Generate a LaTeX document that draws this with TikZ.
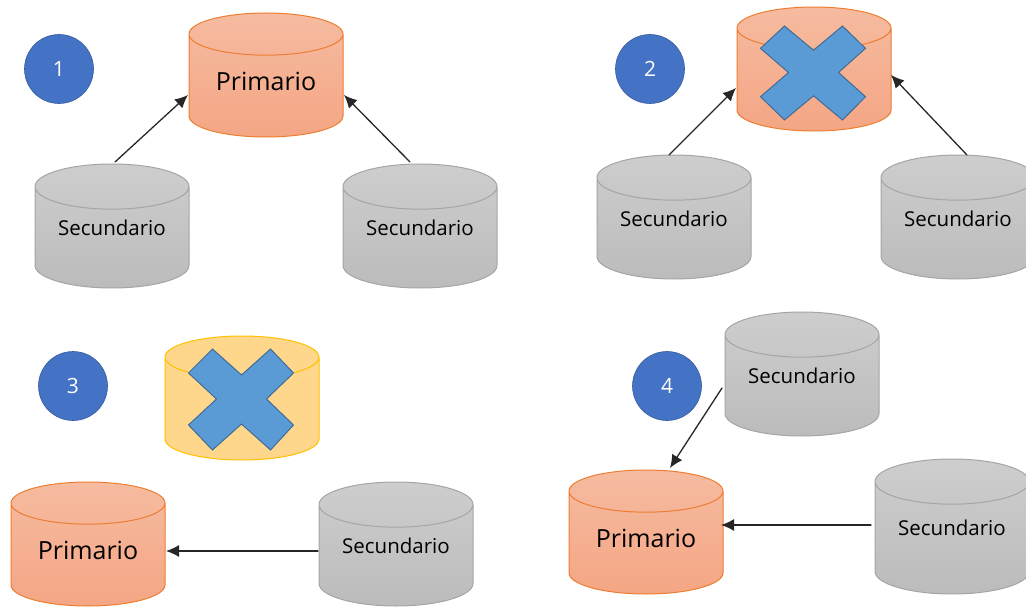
\documentclass[tikz,border=0pt]{standalone}
\usepackage{fontspec}
\setmainfont{Open Sans}
\definecolor{myorange}{RGB}{237,125,49}
\definecolor{myorangeup}{RGB}{246,187,160}
\definecolor{myorangedn}{RGB}{244,166,132}
\definecolor{mygray}{RGB}{165,165,165}
\definecolor{myyellow}{RGB}{255,192,0}
\definecolor{myyellowfill}{RGB}{255,215,140}
\definecolor{myblue}{RGB}{68,114,196}
\definecolor{mycross}{RGB}{91,155,213}
\usetikzlibrary{shapes.geometric,arrows.meta}

\begin{document}
\begin{tikzpicture}[x=1pt,y=-1pt,line cap=round]
	\tikzstyle{cyl}=[cylinder,anchor=shape center,shape border rotate=90,draw,line width=1pt,aspect=.42,minimum width=154pt,minimum height=124pt,inner sep=0pt];
	\tikzstyle{pri}=[cyl,myorange,top color=myorangeup,bottom color=myorangedn,text=black,text height=15pt,text depth=5pt,font=\fontsize{25}{25}\selectfont];
	\tikzstyle{sec}=[cyl,mygray,top color=mygray!55!white,bottom color=mygray!75!white,text=black,text height=7.5pt,text depth=12.5pt,font=\fontsize{20.5}{20.5}\selectfont];
	\tikzstyle{gone}=[cyl,myyellow,top color=myyellowfill,bottom color=myyellowfill,text height=15pt,text depth=5pt,font=\fontsize{25}{25}\selectfont];
	\tikzstyle{num}=[circle,draw=myblue!80!black,fill=myblue,text=white,line width=.6pt,minimum size=69pt,inner sep=0pt,font=\fontsize{21}{21}\selectfont];
	\tikzstyle{cruz}=[draw=mycross!70!black,fill=mycross,line width=1pt,line join=miter];
	\tikzstyle{arr}=[-{Latex[length=13pt,width=12pt]},line width=1.3pt,black!85];
	\useasboundingbox (0,0) rectangle (1026,607);
	% 1
	\node[num] (n1)    at (59,69)   {1};
	\node[pri] (pri1)  at (266,75)  {Primario};
	\node[sec] (sec1a) at (112,226) {Secundario};
	\node[sec] (sec1b) at (420,226) {Secundario};
	\draw[arr] ([shift={(3,-64)}]sec1a.shape center) -- ([shift={(-78,20)}]pri1.shape center);
	\draw[arr] ([shift={(-10,-64)}]sec1b.shape center) -- ([shift={(78,20)}]pri1.shape center);
	% 2
	\node[num]  (n2)    at (650,69)  {2};
	\node[pri]  (pri2)  at (814,69)  {\phantom{Primario}};
	\node[sec]  (sec2a) at (674,217) {Secundario};
	\node[sec]  (sec2b) at (958,217) {Secundario};
	\draw[arr] ([shift={(-5,-62)}]sec2a.shape center) -- ([shift={(-78,19)}]pri2.shape center);
	\draw[arr] ([shift={(9,-62)}]sec2b.shape center) -- ([shift={(77,6)}]pri2.shape center);
	% 3
	\node[num]  (n3)    at (73,386)  {3};
	\node[gone] (old3)  at (242,398) {\phantom{Primario}};
	\node[pri]  (pri3)  at (88,544)  {Primario};
	\node[sec]  (sec3)  at (396,544) {Secundario};
	\draw[arr] ([shift={(-78,7)}]sec3.shape center) -- ([shift={(78,7)}]pri3.shape center);
	% 4
	\node[num]  (n4)    at (667,386) {4};
	\node[pri]  (pri4)  at (646,532) {Primario};
	\node[sec]  (sec4a) at (802,374) {Secundario};
	\node[sec,minimum height=135pt] (sec4b) at (952,526.5) {Secundario};
	\draw[arr] ([shift={(-80,14)}]sec4a.shape center) -- ([shift={(24,-64)}]pri4.shape center);
	\draw[arr] ([shift={(-81,-1.5)}]sec4b.shape center) -- ([shift={(75,-7)}]pri4.shape center);
	% cruces
	\foreach \n/\dy/\sy in {pri2/4/.93,old3/1.5/1}
		\draw[cruz,shift={(\n.shape center)},shift={(-.5,\dy)},yscale=\sy] (-29,-50.5) -- (0,-24.5) -- (29,-50.5) -- (52,-26.5) -- (25,-.5) -- (52,25.5) -- (29,50.5) -- (0,24.5) -- (-29,50.5) -- (-53,25.5) -- (-25,-.5) -- (-53,-26.5) -- cycle;
\end{tikzpicture}
\end{document}
